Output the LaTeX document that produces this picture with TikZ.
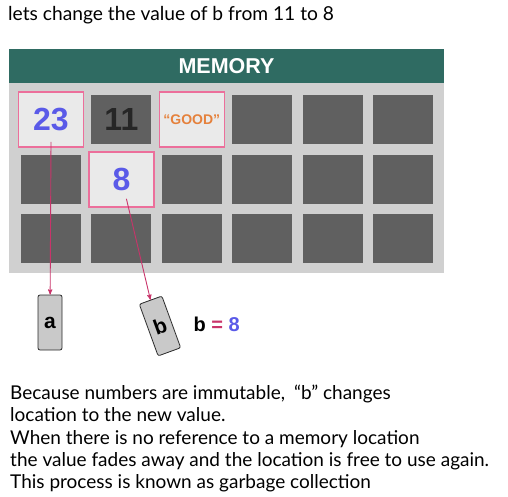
\documentclass[tikz,border=0pt]{standalone}
\usepackage{fontspec}
\setmainfont{Lato}
\newfontfamily\arialfont{Liberation Sans}
\usetikzlibrary{arrows,shapes,positioning}
\definecolor{memteal}{HTML}{2F6B62}
\definecolor{panelgrey}{HTML}{D0D0D0}
\definecolor{cellgrey}{HTML}{606060}
\definecolor{usedfill}{HTML}{EAEAEA}
\definecolor{usedpink}{HTML}{EC6F9B}
\definecolor{numblue}{HTML}{5A5AE8}
\definecolor{goodorange}{HTML}{E5813C}
\definecolor{darktext}{HTML}{262626}
\definecolor{linkpink}{HTML}{C9346A}
\definecolor{boxgrey}{HTML}{C9C9C9}
\definecolor{boxedge}{HTML}{2A2A2A}

\begin{document}
\begin{tikzpicture}[x=1pt,y=-1pt,node distance=70.4pt,
cell/.style={
rectangle,
fill=cellgrey,
minimum width=60pt,
minimum height=49pt,
inner sep=0pt,
font=\arialfont\bfseries\fontsize{32}{32}\selectfont
},
used/.style={
cell,
fill=usedfill,
draw=usedpink,
line width=1.6pt,
minimum width=65pt,
minimum height=55pt
},
var/.style={
rectangle,
rounded corners=2pt,
draw=boxedge,
fill=boxgrey,
thick,
minimum width=24pt,
minimum height=55pt,
inner sep=0pt,
font=\arialfont\bfseries\fontsize{21}{21}\selectfont
},
link/.style={->,>=stealth',line width=0.9pt,draw=linkpink},]

\useasboundingbox (0,0) rectangle (508,497);

\node (title) [anchor=base west,font=\fontsize{19.2}{19.2}\selectfont,inner sep=0pt] at (8,21) {lets change the value of b from 11 to 8};

\node (head) [fill=memteal,minimum width=435pt,minimum height=34pt,outer sep=0pt,text=white,font=\arialfont\bfseries\fontsize{21.5}{21.5}\selectfont] at (226.5,66) {MEMORY};
\node (panel) [fill=panelgrey,minimum width=435pt,minimum height=190pt,outer sep=0pt,below=0pt of head] {};

\node (c11) [used,text=numblue] at (51,119.5) {23};
\node (c12) [cell,right of=c11,text=darktext] {11};
\node (c13) [used,right of=c12,text=goodorange,font=\arialfont\bfseries\fontsize{14}{14}\selectfont] {“GOOD”};
\node (c14) [cell,right of=c13] {};
\node (c15) [cell,right of=c14] {};
\node (c16) [cell,right of=c15] {};
\node (c21) [cell,below of=c11,node distance=60pt] {};
\node (c22) [used,right of=c21,text=numblue] {8};
\node (c23) [cell,right of=c22] {};
\node (c24) [cell,right of=c23] {};
\node (c25) [cell,right of=c24] {};
\node (c26) [cell,right of=c25] {};
\node (c31) [cell,below of=c21,node distance=59pt] {};
\node (c32) [cell,right of=c31] {};
\node (c33) [cell,right of=c32] {};
\node (c34) [cell,right of=c33] {};
\node (c35) [cell,right of=c34] {};
\node (c36) [cell,right of=c35] {};

\node (a) [var] at (50,322.5) {a};
\node (b) [var,rotate=20] at (160,326) {b};
\node (beq) [anchor=west,font=\arialfont\bfseries\fontsize{20}{20}\selectfont] at (190,324) {b \textcolor{linkpink}{=} \textcolor{numblue}{8}};

\draw[link] ([yshift=6pt]c11.south) -- (a);
\draw[link] ([xshift=5pt,yshift=9pt]c22.south) -- (b.north);

\node (note) [anchor=north west,align=left,inner sep=0pt,font=\fontsize{19}{22.25}\selectfont] at (10,385) {Because numbers are immutable,\hspace{9pt}“b” changes\\location to the new value.\\When there is no reference to a memory location\\the value fades away and the location is free to use again.\\This process is known as garbage collection};
\end{tikzpicture}
\end{document}
